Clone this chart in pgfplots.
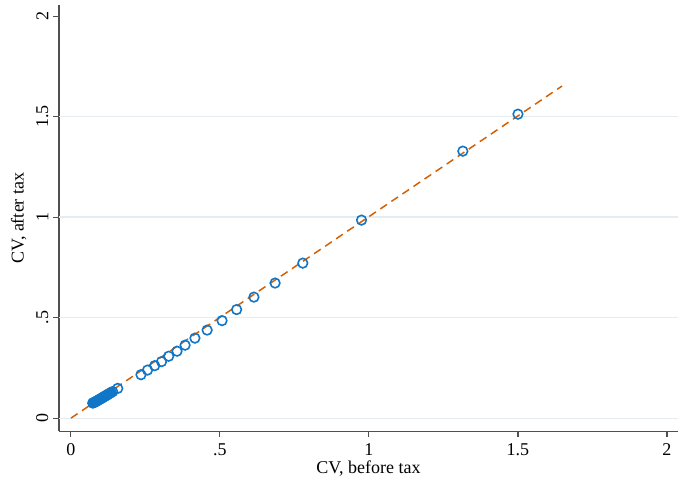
\documentclass[border=0pt]{standalone}
\usepackage{pgfplots}
\pgfplotsset{compat=1.18}
\usepackage{fontspec}
\setmainfont{Liberation Serif}
\definecolor{stcblue}{RGB}{16,118,200}
\definecolor{stcorange}{RGB}{213,94,0}
\definecolor{gridc}{RGB}{230,237,240}
\definecolor{axc}{RGB}{80,80,80}
\begin{document}
\begin{tikzpicture}
\begin{axis}[
  scale only axis,
  width=464pt, height=319.5pt,
  xmin=-0.040, xmax=2.037,
  ymin=-0.065, ymax=2.055,
  axis x line*=bottom, axis y line*=left,
  axis line style={axc, line width=0.8pt, -},
  xtick={0,0.5,1,1.5,2}, xticklabels={0,.5,1,1.5,2},
  ytick={0,0.5,1,1.5,2}, yticklabels={0,.5,1,1.5,2},
  tick align=outside, major tick length=4.5pt,
  tick style={axc, line width=0.8pt},
  ticklabel style={font=\fontsize{13.5}{16}\selectfont},
  yticklabel style={rotate=90, anchor=south},
  xticklabel style={yshift=-1pt},
  extra y ticks={0,0.5,1,1.5}, extra y tick labels={},
  extra y tick style={ymajorgrids=true, major tick length=0pt},
  major grid style={gridc, line width=0.9pt},
  xlabel={CV, before tax}, ylabel={CV, after tax},
  label style={font=\fontsize{13.5}{16}\selectfont},
  xlabel style={yshift=3pt},
  ylabel style={yshift=-4pt},
  clip=false,
]
\addplot[stcorange, line width=1.1pt, dash pattern=on 6pt off 4pt] coordinates {(0,0) (1.648,1.652)};
\addplot[only marks, mark=o, mark size=3.6pt, stcblue, mark options={line width=1.2pt}] coordinates {
(1.500,1.512) (1.315,1.328) (0.975,0.985) (0.778,0.771) (0.685,0.672)
(0.614,0.602) (0.556,0.540) (0.507,0.485) (0.457,0.438) (0.416,0.398)
(0.383,0.363) (0.356,0.333) (0.328,0.308) (0.304,0.281) (0.281,0.261)
(0.257,0.239) (0.235,0.216)
(0.157,0.148) (0.140,0.132) (0.135,0.128) (0.131,0.124) (0.127,0.121)
(0.124,0.118) (0.121,0.115) (0.118,0.112) (0.115,0.110) (0.112,0.107)
(0.109,0.105) (0.106,0.102) (0.103,0.099) (0.100,0.097) (0.097,0.094)
(0.094,0.092) (0.091,0.089) (0.088,0.086) (0.085,0.084) (0.082,0.081)
(0.079,0.079) (0.076,0.077) (0.073,0.075)
};
\end{axis}
\pgfresetboundingbox
\path[use as bounding box] (current axis.south west) ++(-44.25pt,-39pt) rectangle ([shift={(2.25pt,3.75pt)}]current axis.north east);
\end{tikzpicture}
\end{document}
